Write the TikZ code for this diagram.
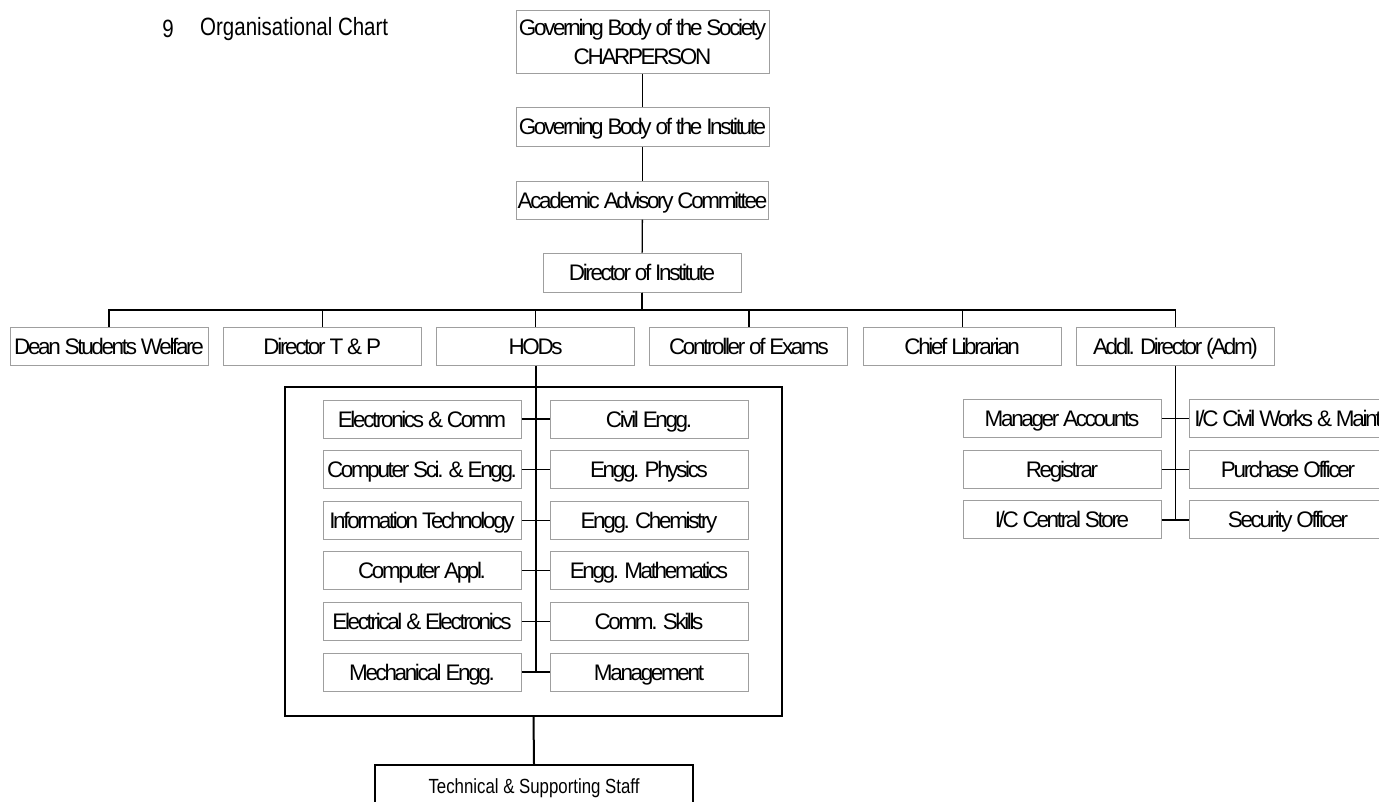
\documentclass[tikz,border=0pt]{standalone}
\usepackage{fontspec}
\setmainfont{Liberation Sans}
\newfontfamily\tightfont[LetterSpace=-10.5]{Liberation Sans}
\newfontfamily\narrowfont[FakeStretch=0.82]{Liberation Sans}
\tikzstyle{unit} = [rectangle, draw=gray!75, line width=1pt, minimum width=198pt, minimum height=38pt, inner sep=0pt, text height=20pt, text depth=4pt, text centered, font=\tightfont\fontsize{22.5}{29}\selectfont]
\tikzstyle{heading} = [inner sep=0pt, font=\narrowfont\fontsize{25}{30}\selectfont]
\tikzstyle{frame} = [rectangle, draw=black, line width=2pt, inner sep=0pt]
\tikzstyle{link} = [draw=black, line width=1.3pt]

\begin{document}
\begin{tikzpicture}[x=1pt, y=-1pt, node distance=213.3pt]
		\useasboundingbox (0,0) rectangle (1379,801);
		% title
		\node (num) [heading] at (168,29) {9};
		\node (title) [heading, anchor=west] at (200,29) {Organisational Chart};
		
		% top chain
		\node (society) [unit, minimum width=253pt, minimum height=63pt, text height=, text depth=, align=center] at (642.5,41.5) {Governing Body of the Society\\CHARPERSON};
		\node (gbody) [unit, minimum width=253pt, minimum height=39pt] at (642.5,126.5) {Governing Body of the Institute};
		\node (aac) [unit, minimum width=252pt] at (642.5,200) {Academic Advisory Committee};
		\node (director) [unit, minimum height=39pt] at (642,272.5) {Director of Institute};
		
		% second level
		\node (dean) [unit] at (109,346) {Dean Students Welfare};
		\node (tnp) [unit, right of=dean] {Director T \& P};
		\node (hods) [unit, right of=tnp] {HODs};
		\node (coe) [unit, right of=hods] {Controller of Exams};
		\node (lib) [unit, right of=coe] {Chief Librarian};
		\node (addl) [unit, right of=lib] {Addl. Director (Adm)};
		
		\draw [link] (society) -- (gbody);
		\draw [link] (gbody) -- (aac);
		\draw [link] (aac) -- (director);
		\coordinate (bus) at (642,310);
		\foreach \n in {dean,tnp,hods,coe,lib,addl}
			\draw [link] (director.south) |- (bus -| \n) -- (\n.north);
		
		% departments
		\node (deptframe) [frame, minimum width=497pt, minimum height=329pt] at (533.5,551.5) {};
		\begin{scope}[node distance=50.6pt]
		\node (ece) [unit] at (422,419) {Electronics \& Comm};
		\node (cse) [unit, below of=ece] {Computer Sci. \& Engg.};
		\node (it) [unit, below of=cse] {Information Technology};
		\node (mca) [unit, below of=it] {Computer Appl.};
		\node (eee) [unit, below of=mca] {Electrical \& Electronics};
		\node (mech) [unit, below of=eee] {Mechanical Engg.};
		\end{scope}
		\begin{scope}[node distance=227pt]
		\node (civil) [unit, right of=ece] {Civil Engg.};
		\node (phy) [unit, right of=cse] {Engg. Physics};
		\node (chem) [unit, right of=it] {Engg. Chemistry};
		\node (maths) [unit, right of=mca] {Engg. Mathematics};
		\node (skills) [unit, right of=eee] {Comm. Skills};
		\node (mgmt) [unit, right of=mech] {Management};
		\end{scope}
		
		\draw [link, line width=1.8pt] (hods.south) -- (hods.south |- mech.east);
		\draw [link] (ece) -- (civil);
		\draw [link] (cse) -- (phy);
		\draw [link] (it) -- (chem);
		\draw [link] (mca) -- (maths);
		\draw [link] (eee) -- (skills);
		\draw [link] (mech) -- (mgmt);
		
		% administration
		\begin{scope}[node distance=50.7pt]
		\node (accounts) [unit] at (1062,418.5) {Manager Accounts};
		\node (registrar) [unit, below of=accounts] {Registrar};
		\node (store) [unit, below of=registrar] {I/C Central Store};
		\end{scope}
		\begin{scope}[node distance=226pt]
		\node (works) [unit, right of=accounts] {I/C Civil Works \& Maint};
		\node (purchase) [unit, right of=registrar] {Purchase Officer};
		\node (security) [unit, right of=store] {Security Officer};
		\end{scope}
		
		\draw [link] (addl.south) -- (addl.south |- store.east);
		\draw [link] (accounts) -- (works);
		\draw [link] (registrar) -- (purchase);
		\draw [link] (store) -- (security);
		
		% staff
		\node (staff) [frame, minimum width=318pt, minimum height=46pt, font=\narrowfont\fontsize{20.5}{24}\selectfont] at (534,788) {Technical \& Supporting Staff};
		\draw [link, line width=2pt] (deptframe.south) -- (staff.north);
\end{tikzpicture}
\end{document}
